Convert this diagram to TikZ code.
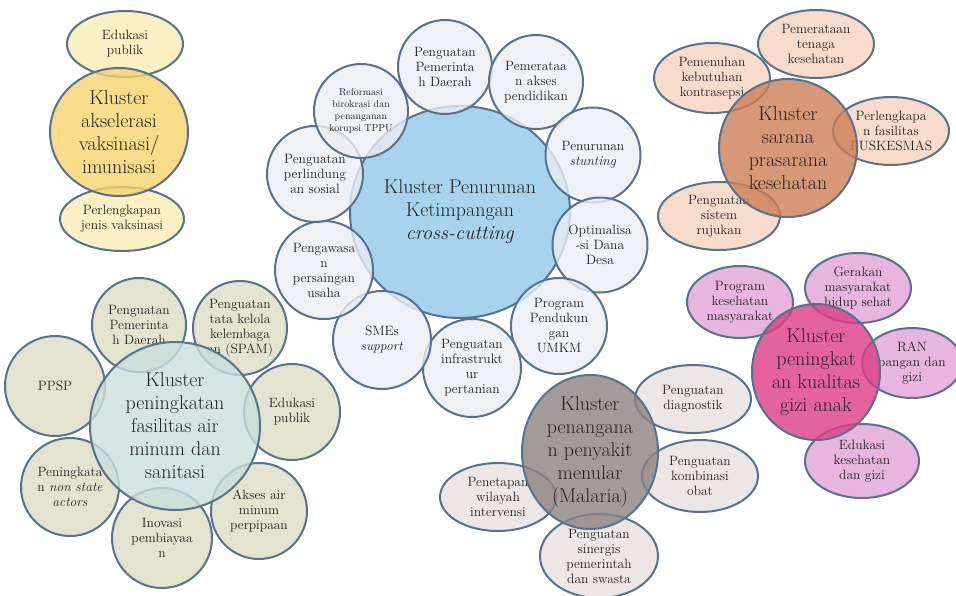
\documentclass[tikz,border=0pt]{standalone}
\usepackage{fontspec}
\usepackage{tikz}
\usetikzlibrary{shapes.geometric}
\definecolor{rim}{HTML}{56728E}
\definecolor{ink}{HTML}{222222}
\definecolor{yelLt}{HTML}{FAECB5}
\definecolor{yelDk}{HTML}{F6D36D}
\definecolor{bluLt}{HTML}{EAEDF2}
\definecolor{bluDk}{HTML}{91C8EB}
\definecolor{orgLt}{HTML}{F6D3BE}
\definecolor{orgDk}{HTML}{CD7E55}
\definecolor{grnLt}{HTML}{DCDCC3}
\definecolor{grnDk}{HTML}{C9DEDC}
\definecolor{gryLt}{HTML}{E7E0E0}
\definecolor{gryDk}{HTML}{8C8282}
\definecolor{pnkLt}{HTML}{E1A2D8}
\definecolor{pnkDk}{HTML}{DD3C87}

\begin{document}
\begin{tikzpicture}[x=1pt, y=-1pt,
  bub/.style={ellipse, draw=rim, line width=2pt, inner sep=-8pt, align=center, fill opacity=0.8, text opacity=1, text=ink, font=\fontsize{13.5}{15}\selectfont},
  hub/.style={bub, font=\fontsize{20}{23}\selectfont},
  wh/.style 2 args={minimum width=#1pt, minimum height=#2pt},
  rnd/.style={minimum width=#1pt, minimum height=#1pt}
]
\useasboundingbox (0,0) rectangle (956,595);

% vaksinasi
\node[bub, wh={116}{66}, fill=yelLt]  (yedu) at (125,44)  {Edukasi\\publik};
\node[bub, wh={124}{64}, fill=yelLt]  (yvak) at (122,219) {Perlengkapan\\jenis vaksinasi};
\node[hub, wh={138}{128}, fill=yelDk] (yhub) at (119,132) {Kluster\\akselerasi\\vaksinasi/\\imunisasi};

% cross-cutting
\node[hub, wh={220}{212}, fill=bluDk] (bhub) at (460,212) {Kluster Penurunan\\Ketimpangan\\\textit{cross-cutting}};
\node[bub, rnd=94, fill=bluLt] (bpem) at (445,67)  {Penguatan\\Pemerinta\\h Daerah};
\node[bub, rnd=94, fill=bluLt] (bdik) at (536,82)  {Pemerataa\\n akses\\pendidikan};
\node[bub, rnd=95, fill=bluLt] (bstu) at (593,155) {Penurunan\\\textit{stunting}};
\node[bub, rnd=95, fill=bluLt] (bdes) at (600,245) {Optimalisa\\-si Dana\\Desa};
\node[bub, rnd=96, fill=bluLt] (bumk) at (559,326) {Program\\Pendukun\\gan\\UMKM};
\node[bub, rnd=98, fill=bluLt] (binf) at (472,368) {Penguatan\\infrastrukt\\ur\\pertanian};
\node[bub, rnd=98, fill=bluLt] (bsme) at (382,340) {SMEs\\\textit{support}};
\node[bub, rnd=98, fill=bluLt] (bwas) at (324,270) {Pengawasa\\n\\persaingan\\usaha};
\node[bub, rnd=96, fill=bluLt] (bsos) at (315,174) {Penguatan\\perlindung\\an sosial};
\node[bub, rnd=94, fill=bluLt, font=\fontsize{10}{12}\selectfont] (bref) at (361,111) {Reformasi\\birokrasi dan\\penanganan\\korupsi TPPU};

% sarana prasarana
\node[bub, wh={116}{68}, fill=orgLt]  (otng) at (816,44)  {Pemerataan\\tenaga\\kesehatan};
\node[bub, wh={116}{70}, fill=orgLt]  (okon) at (712,78)  {Pemenuhan\\kebutuhan\\kontrasepsi};
\node[bub, wh={116}{68}, fill=orgLt]  (opus) at (891,131) {Perlengkapa\\n fasilitas\\PUSKESMAS};
\node[bub, wh={122}{68}, fill=orgLt]  (oruj) at (719,216) {Penguatan\\sistem\\rujukan};
\node[hub, wh={138}{138}, fill=orgDk] (ohub) at (788,148) {Kluster\\sarana\\prasarana\\kesehatan};

% air minum
\node[bub, rnd=94,  fill=grnLt] (gpem) at (139,325) {Penguatan\\Pemerinta\\h Daerah};
\node[bub, rnd=94,  fill=grnLt] (gspm) at (240,328) {Penguatan\\tata kelola\\kelembaga\\an (SPAM)};
\node[bub, rnd=100, fill=grnLt] (gpps) at (55,386)  {PPSP};
\node[bub, rnd=96,  fill=grnLt] (gedu) at (292,412) {Edukasi\\publik};
\node[bub, rnd=98,  fill=grnLt] (gnsa) at (70,487)  {Peningkata\\n \textit{non state}\\\textit{actors}};
\node[bub, rnd=96,  fill=grnLt] (gair) at (259,511) {Akses air\\minum\\perpipaan};
\node[bub, rnd=100, fill=grnLt] (gino) at (162,538) {Inovasi\\pembiayaa\\n};
\node[hub, wh={170}{168}, fill=grnDk] (ghub) at (175,426) {Kluster\\peningkatan\\fasilitas air\\minum dan\\sanitasi};

% malaria
\node[bub, wh={116}{68}, fill=gryLt]  (mdia) at (693,399) {Penguatan\\diagnostik};
\node[bub, wh={116}{72}, fill=gryLt]  (mobt) at (700,476) {Penguatan\\kombinasi\\obat};
\node[bub, wh={116}{68}, fill=gryLt]  (mwil) at (498,497) {Penetapan\\wilayah\\intervensi};
\node[bub, wh={118}{84}, fill=gryLt]  (msin) at (599,556) {Penguatan\\sinergis\\pemerintah\\dan swasta};
\node[hub, wh={136}{154}, fill=gryDk] (mhub) at (590,452) {Kluster\\penangana\\n penyakit\\menular\\(Malaria)};

% gizi anak
\node[bub, wh={106}{72}, fill=pnkLt]  (pmas) at (740,302) {Program\\kesehatan\\masyarakat};
\node[bub, wh={106}{70}, fill=pnkLt]  (pger) at (858,288) {Gerakan\\masyarakat\\hidup sehat};
\node[bub, wh={100}{70}, fill=pnkLt]  (pran) at (912,363) {RAN\\pangan dan\\gizi};
\node[bub, wh={114}{74}, fill=pnkLt]  (pedu) at (862,461) {Edukasi\\kesehatan\\dan gizi};
\node[hub, wh={128}{136}, fill=pnkDk] (phub) at (816,372) {Kluster\\peningkat\\an kualitas\\gizi anak};
\end{tikzpicture}
\end{document}
